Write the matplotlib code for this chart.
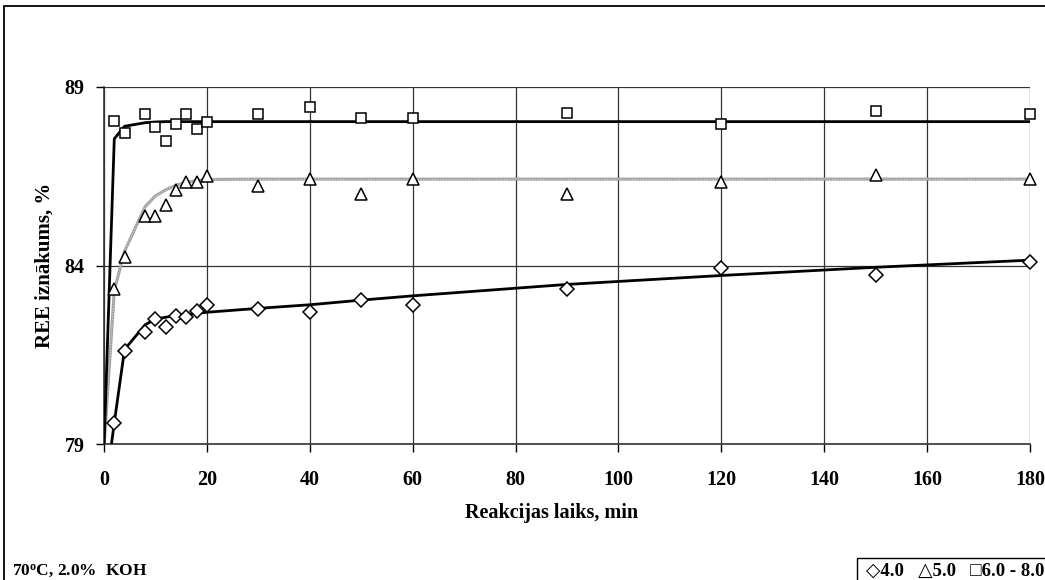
import matplotlib
matplotlib.use('Agg')
import matplotlib.pyplot as plt
from matplotlib.patches import Rectangle

plt.rcParams['font.family'] = ['Liberation Serif', 'DejaVu Sans']
plt.rcParams['font.weight'] = 'bold'
plt.rcParams['mathtext.fontset'] = 'custom'
plt.rcParams['mathtext.rm'] = 'Liberation Serif:bold'
plt.rcParams['mathtext.it'] = 'Liberation Serif:bold:italic'
plt.rcParams['mathtext.bf'] = 'Liberation Serif:bold'

# mērījumi (min, %)
t_meas = [2, 4, 8, 10, 12, 14, 16, 18, 20, 30, 40, 50, 60, 90, 120, 150, 180]
y_40 = [79.58, 81.6, 82.15, 82.50, 82.27, 82.58, 82.56, 82.72, 82.90, 82.79,
        82.69, 83.03, 82.90, 83.33, 83.92, 83.74, 84.10]
y_50 = [83.33, 84.24, 85.40, 85.40, 85.70, 86.11, 86.34, 86.34, 86.51, 86.23,
        86.42, 85.99, 86.42, 85.99, 86.34, 86.53, 86.42]
y_68 = [88.04, 87.72, 88.24, 87.87, 87.49, 87.95, 88.24, 87.83, 88.02, 88.24,
        88.45, 88.12, 88.12, 88.28, 87.95, 88.32, 88.24]

# aproksimācijas līknes
t_fit = [0, 2, 4, 8, 10, 12, 14, 16, 18, 20, 30, 40, 50, 60, 90, 120, 150, 180]
fit_40 = [77.4, 79.6, 81.65, 82.34, 82.5, 82.55, 82.6, 82.63, 82.66, 82.69,
          82.8, 82.9, 83.03, 83.15, 83.47, 83.72, 83.95, 84.15]
fit_50 = [78.9, 83.3, 84.4, 85.65, 85.95, 86.12, 86.25, 86.33, 86.38, 86.41,
          86.42, 86.42, 86.42, 86.42, 86.42, 86.42, 86.42, 86.42]
fit_68 = [78.9, 87.55, 87.9, 88.0, 88.02, 88.03, 88.03, 88.03, 88.03, 88.03,
          88.03, 88.03, 88.03, 88.03, 88.03, 88.03, 88.03, 88.03]

x_ticks = list(range(0, 181, 20))
y_ticks = [79, 84, 89]

fig = plt.figure(figsize=(10.45, 5.8), dpi=100)
ax = fig.add_axes([104 / 1045, 1 - 444 / 580, 926 / 1045, 357 / 580])

ax.plot(t_fit, fit_40, color='black', lw=2.0, zorder=3)
ax.plot(t_fit, fit_50, color='#a0a0a0', lw=2.2, zorder=3)
ax.plot(t_fit, fit_50, color='#d8d8d8', lw=0.8, ls=(0, (1, 1.5)), zorder=3)
ax.plot(t_fit, fit_68, color='black', lw=2.0, zorder=3)

mk = dict(ls='none', mfc='white', mec='black', mew=1.1, zorder=4, clip_on=False)
ax.plot(t_meas, y_40, marker='D', ms=6.8, **mk)
ax.plot(t_meas, y_50, marker='^', ms=8.5, **mk)
ax.plot(t_meas, y_68, marker='s', ms=7.5, **mk)

ax.set_xlim(0, 180)
ax.set_ylim(79, 89)
ax.set_xticks(x_ticks)
ax.set_yticks(y_ticks)
ax.grid(True, color='#333333', lw=0.9)
ax.set_axisbelow(True)
for s in ['top', 'right']:
    ax.spines[s].set_visible(False)
for s in ['left', 'bottom']:
    ax.spines[s].set_color('#333333')
    ax.spines[s].set_linewidth(1.2)
ax.tick_params(axis='x', direction='out', length=6, width=1, pad=13, labelsize=14.5)
ax.tick_params(axis='y', direction='out', length=6, width=1, pad=8, labelsize=14.5)
for lbl in ax.get_xticklabels() + ax.get_yticklabels():
    lbl.set_fontweight('bold')

ax.set_xlabel('Reakcijas laiks, min', fontsize=14.5, fontweight='bold')
ax.xaxis.set_label_coords((552 - 104) / 926, (444 - 503) / 357)
ax.set_ylabel('REE iznākums, %', fontsize=15, fontweight='bold', labelpad=7)

# ārējais rāmis
fig.patches.append(Rectangle((4 / 1045, -0.2), 1.2, 1 - 6 / 580 + 0.2,
                             transform=fig.transFigure, fill=False,
                             edgecolor='black', lw=1.3, clip_on=False))
# leģendas rāmis
fig.patches.append(Rectangle((857 / 1045, -0.2), 1.0, 0.2 + 1 - 558 / 580,
                             transform=fig.transFigure, fill=False,
                             edgecolor='black', lw=1.0, clip_on=False))

fig.text(12 / 1045, 1 - 575 / 580, r'70$^{\mathrm{o}}$C, 2.0%  KOH',
         fontsize=12.5, fontweight='bold', va='baseline', ha='left')
fig.text(866 / 1045, 1 - 576 / 580, '◇4.0   △5.0   □6.0 - 8.0',
         fontsize=13.5, fontweight='bold', va='baseline', ha='left')

fig.savefig('out.png', dpi=100)
